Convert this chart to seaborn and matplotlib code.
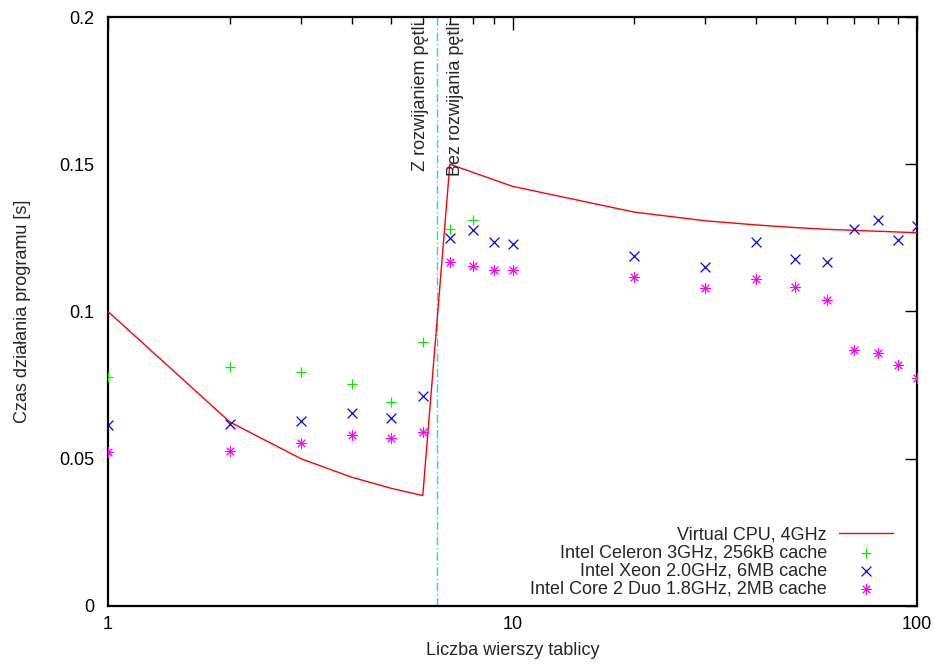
import matplotlib
matplotlib.use("Agg")
import matplotlib.pyplot as plt
import matplotlib.ticker as mticker
import numpy as np
import pandas as pd
import seaborn as sns

# Table sizes (number of rows)
rows_all = [1, 2, 3, 4, 5, 6, 7, 8, 9, 10, 20, 30, 40, 50, 60, 70, 80, 90, 100]
rows_line = [1, 2, 3, 4, 5, 6, 7, 10, 20, 30, 40, 50, 60, 100]
rows_celeron = [1, 2, 3, 4, 5, 6, 7, 8]

# Run times [s]
virtual_cpu = [0.1, 0.0625, 0.05, 0.04375, 0.04, 0.0375,
               0.15, 0.1425, 0.13375, 0.1308, 0.1294, 0.1285, 0.1279, 0.12675]
celeron = [0.0777, 0.0813, 0.0793, 0.0754, 0.0694, 0.0895, 0.1281, 0.1310]
xeon = [0.0613, 0.0619, 0.0627, 0.0655, 0.0637, 0.0714, 0.1249, 0.1277, 0.1237,
        0.1230, 0.1190, 0.1150, 0.1235, 0.1177, 0.1169, 0.1279, 0.1309, 0.1244, 0.1289]
core2duo = [0.0523, 0.0525, 0.0553, 0.0582, 0.0570, 0.0592, 0.1169, 0.1154, 0.1141,
            0.1142, 0.1118, 0.1081, 0.1109, 0.1082, 0.1038, 0.0868, 0.0860, 0.0817, 0.0774]

unroll_limit = 6.5

labels = ["Virtual CPU, 4GHz",
          "Intel Celeron 3GHz, 256kB cache",
          "Intel Xeon 2.0GHz, 6MB cache",
          "Intel Core 2 Duo 1.8GHz, 2MB cache"]

sns.set_theme(style="white")
plt.rcParams["font.family"] = ["Liberation Sans", "DejaVu Sans"]
plt.rcParams["font.size"] = 13

fig = plt.figure(figsize=(9.35, 6.66), dpi=100)
ax = fig.add_axes([108 / 935, 60 / 666, (917 - 108) / 935, (606 - 17) / 666])

ax.axvline(unroll_limit, color="#00e5ee", lw=1.0, linestyle=(0, (6, 2, 1, 2)), zorder=1)

sns.lineplot(x=rows_line, y=virtual_cpu, ax=ax, color="#ff0000", lw=1.0,
             label=labels[0], zorder=3)
sns.scatterplot(x=rows_celeron, y=celeron, ax=ax, marker="+", color="#00ee00",
                s=60, linewidth=0.9, label=labels[1], zorder=3)
sns.scatterplot(x=rows_all, y=xeon, ax=ax, marker="x", color="#0000ff",
                s=50, linewidth=0.9, label=labels[2], zorder=3)
sns.scatterplot(x=rows_all, y=core2duo, ax=ax, marker=(8, 2, 0), color="#ff00ff",
                s=50, linewidth=0.7, label=labels[3], zorder=3)

ax.set_xscale("log")
ax.set_xlim(1, 100)
ax.set_ylim(0, 0.2)
ax.xaxis.set_major_locator(mticker.FixedLocator([1, 10, 100]))
ax.xaxis.set_major_formatter(mticker.FormatStrFormatter("%g"))
ax.xaxis.set_minor_locator(mticker.LogLocator(base=10, subs=np.arange(2, 10)))
ax.xaxis.set_minor_formatter(mticker.NullFormatter())
ax.yaxis.set_major_locator(mticker.MultipleLocator(0.05))
ax.yaxis.set_major_formatter(mticker.FormatStrFormatter("%g"))

ax.tick_params(axis="both", which="major", direction="in", length=9, width=1.0,
               top=True, right=True, labelsize=13, colors="black")
ax.tick_params(axis="x", which="major", pad=7)
ax.tick_params(axis="y", which="major", pad=10)
ax.tick_params(axis="both", which="minor", direction="in", length=5, width=1.0,
               top=True, right=True, colors="black")
for sp in ax.spines.values():
    sp.set_visible(True)
    sp.set_color("black")
    sp.set_linewidth(1.6)

ax.set_xlabel("Liczba wierszy tablicy", fontsize=13, labelpad=7)
ax.set_ylabel("Czas działania programu [s]", fontsize=13, labelpad=20)

ax.annotate("Z rozwijaniem pętli", xy=(unroll_limit, 0.2), xytext=(-11.5, -3),
            textcoords="offset points", rotation=90, ha="center", va="top", fontsize=13)
ax.annotate("Bez rozwijania pętli", xy=(unroll_limit, 0.2), xytext=(13.7, -3),
            textcoords="offset points", rotation=90, ha="center", va="top", fontsize=13)

ax.legend(loc="lower right", bbox_to_anchor=(0.9805, 0.0), frameon=False,
          markerfirst=False, fontsize=13, handlelength=3.0, labelspacing=0.06,
          borderaxespad=0.05, handletextpad=0.67)

fig.savefig("out.png", dpi=100)
